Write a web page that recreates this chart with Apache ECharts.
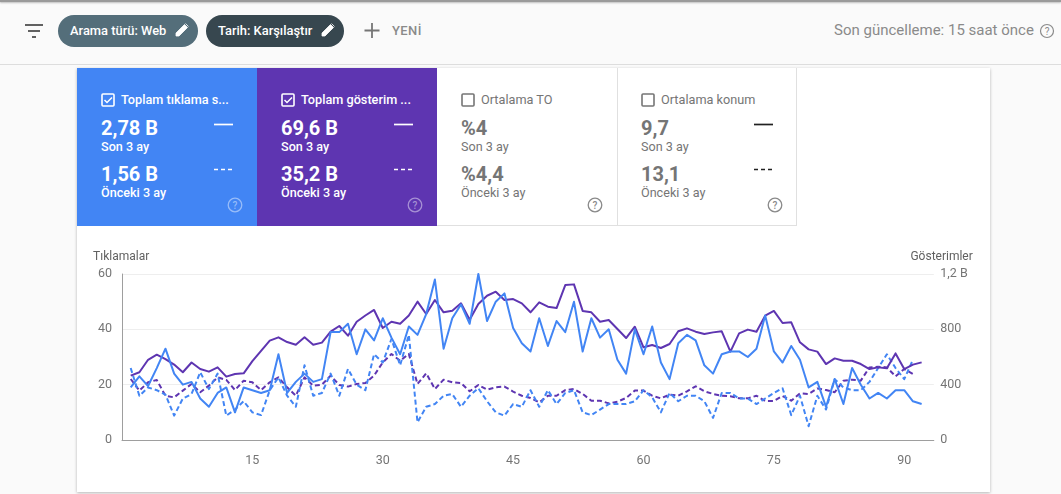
<!DOCTYPE html>
<html lang="tr"><head><meta charset="utf-8">
<script src="https://cdn.jsdelivr.net/npm/echarts@6/dist/echarts.min.js"></script>
<style>
html,body{margin:0;padding:0;width:1061px;height:494px;overflow:hidden;background:#fafafa;font-family:Roboto,sans-serif}
.a{position:absolute;white-space:nowrap;line-height:1}
#top{position:absolute;left:0;top:0;width:1061px;height:64px;background:#fafafa;border-bottom:1px solid #ddd;box-sizing:content-box}
#shade{position:absolute;left:0;top:0;width:1061px;height:2px;background:#9a9a9a;box-shadow:0 1px 2px #bbb}
#card{position:absolute;left:77px;top:68px;width:913px;height:424px;background:#fff;box-shadow:0 1px 3px rgba(0,0,0,.28)}
.chip{position:absolute;top:15px;height:32px;border-radius:16px;color:#fff;font-size:12.9px;font-weight:500;line-height:32px;box-sizing:border-box;padding-left:12px}
.tile{position:absolute;top:68px;width:180px;height:158px;box-sizing:border-box}
.t1{font-size:12.7px}.big{font-size:20px;font-weight:700}.sm{font-size:12.6px}
#chart{position:absolute;left:0;top:0;width:1061px;height:494px}
</style></head><body>
<div id="top"></div><div id="shade"></div>
<svg class="a" style="left:24px;top:23px" width="20" height="16"><path d="M1 2h18M4 8h12M8 14h4" stroke="#616161" stroke-width="1.8"/></svg>
<div class="chip" style="left:58px;width:140px;background:#546e7a">Arama türü: Web</div>
<div class="chip" style="left:206px;width:138px;background:#37474f">Tarih: Karşılaştır</div>
<svg class="a" style="left:174px;top:22px" width="16" height="16"><path d="M2 14v-3L10.5 2.500l3 3L5 14zM11.500 1.500l3 3" fill="#fff" stroke="#fff" stroke-width=".8"/></svg>
<svg class="a" style="left:320px;top:22px" width="16" height="16"><path d="M2 14v-3L10.5 2.500l3 3L5 14zM11.500 1.500l3 3" fill="#fff" stroke="#fff" stroke-width=".8"/></svg>
<svg class="a" style="left:364px;top:23px" width="16" height="16"><path d="M8 0v15M0.500 7.500h15" stroke="#757575" stroke-width="1.8"/></svg>
<div class="a" style="left:392px;top:24px;font-size:13px;font-weight:500;color:#8a8a8a;letter-spacing:.4px">YENİ</div>
<div class="a" style="left:834px;top:23px;font-size:15px;color:#8a8a8a">Son güncelleme: 15 saat önce</div>
<svg class="a" style="left:1039px;top:23px" width="16" height="16"><circle cx="8" cy="8" r="6.500" fill="none" stroke="#8a8a8a" stroke-width="1.2"/><text x="8" y="11.500" font-size="10" text-anchor="middle" fill="#8a8a8a" font-family="Roboto">?</text></svg>
<div id="card"></div>
<div id="tiles"></div>
<div id="chart"></div>
<script>
// Son 3 ay / Önceki 3 ay values
const clicksCurrent=[19,23,19.500,26,33,24,20,21,15,12,17,19,10,19,18,17,18,31,17,21,24,21,22,39,39,42,31,40,36,44,37,31,41,38,45.500,58,33,44,49,42,60,43,50,53,40.500,35,32,44,34,43,39,50,32,44,37,40,29,24,40,31,41,28,22,35,38,36,27,24,31,32,32,30,33,45,32,28,34,29,19,21,12,22,13,26,20,15,17,15,18,18,14,13];
const clicksPrevious=[26,16,19,18,16.400,8.800,15,16.600,24.500,18.400,24,8.800,11,14,10,9,18,22.600,16,12,27,16,17,24,16,25.700,20,18,31,28,36.500,27,38,6.400,12,13,16,16.600,12,16,18.700,14,10,8.800,13,12,18,12,18,13,17,18,10,9,11,13,13,13,14,18,15.400,10,17,14,16,16,14,8,17,17,15,15,13,15,17,18.700,9,16,5,16,11,22,19,18,18,21,26,31,26,22,29];
const impressionsCurrent=[465,490,580,617,585,545,490,560,513,494,525,458,477,482,570,645,718,742,708,689,742,689,704,783,824,754,855,900,940,810,855,840,900,1000,911,1012,923,935,988,870,983,1043,1072,1012,1019,988,923,995,964,954,1120,1125,933,923,855,867,802,737,819,670,687,665,694,786,807,783,766,778,786,639,771,798,783,899,933,846,851,706,655,639,549,590,573,573,549,513,525,518,626,513,545,561];
const impressionsPrevious=[441,357,417,434,320,308,357,405,345,393,453,434,361,429,417,361,417,453,381,320,453,393,400,465,398,386,405,412,465,561,622,573,622,405,482,369,436,417,412,352,398,364,381,386,350,320,304,272,320,320,361,369,333,284,284,265,277,304,357,357,320,301,328,320,352,388,352,333,320,316,301,301,320,282,282,318,284,337,333,373,361,345,429,436,429,525,530,525,460,513,477];
const xTicks=[15,30,45,60,75,90];
const leftTicks=[0,20,40,60];
const rightLabels={0:'0',400:'400',800:'800',1200:'1,2 B'};
const tiles=[
 {title:'Toplam tıklama s...',now:'2,78 B',before:'1,56 B',bg:'#4285f4',fg:'#fff',on:true},
 {title:'Toplam gösterim ...',now:'69,6 B',before:'35,2 B',bg:'#5e35b1',fg:'#fff',on:true},
 {title:'Ortalama TO',now:'%4',before:'%4,4',bg:'#fff',fg:'#757575',on:false},
 {title:'Ortalama konum',now:'9,7',before:'13,1',bg:'#fff',fg:'#757575',on:false,mark:'#212121'}
];
const h=tiles.map((t,i)=>{
 const x=77+i*180, qs=t.on?'rgba(255,255,255,.45)':'#8a8a8a';
 const border=t.on?'':'border-bottom:1px solid #e0e0e0;'+(i===3?'border-left:1px solid #e0e0e0;border-right:1px solid #e0e0e0;':'');
 const mark=t.on?'#fff':t.mark;
 const box=t.on?`<rect x="1" y="1" width="12" height="12" rx="1" fill="none" stroke="#fff" stroke-width="1.6"/><path d="M3.500 7l2.500 2.500 5-5" fill="none" stroke="#fff" stroke-width="1.5"/>`:`<rect x="1" y="1" width="12" height="12" rx="1" fill="none" stroke="#757575" stroke-width="1.6"/>`;
 const left=i===3?23:24;
 let marks='';
 if(mark){const mx=i===3?136:137, w=19;
  marks=`<svg class="a" style="left:${mx}px;top:55px" width="20" height="3"><path d="M0 1.500h${w}" stroke="${mark}" stroke-width="1.700"/></svg><svg class="a" style="left:${mx}px;top:100px" width="20" height="3"><path d="M0 1.500h${w}" stroke="${mark}" stroke-width="1.700" stroke-dasharray="4 3"/></svg>`;}
 return `<div class="tile" style="left:${x}px;background:${t.bg};color:${t.fg};${border}">
 <svg class="a" style="left:${left}px;top:25px" width="14" height="14">${box}</svg>
 <div class="a t1" style="left:${left+20}px;top:25.500px;font-weight:${t.on?500:400}">${t.title}</div>
 <div class="a big" style="left:${left}px;top:50px">${t.now}</div>
 <div class="a sm" style="left:${left}px;top:73px;font-weight:${t.on?500:400}">Son 3 ay</div>
 <div class="a big" style="left:${left}px;top:96px">${t.before}</div>
 <div class="a sm" style="left:${left}px;top:119px;font-weight:${t.on?500:400}">Önceki 3 ay</div>${marks}
 <svg class="a" style="left:${i===3?149:150}px;top:129px" width="16" height="16"><circle cx="8" cy="8" r="6.800" fill="none" stroke="${qs}" stroke-width="1.300"/><text x="8" y="11.500" font-size="10" font-weight="500" text-anchor="middle" fill="${qs}" font-family="Roboto">?</text></svg>
 </div>`;}).join('');
document.getElementById('tiles').innerHTML=h;

const pairs=a=>a.map((v,i)=>[i+1,v]);
const line=(name,data,color,axis,dashed,z)=>({name,type:'line',data:pairs(data),yAxisIndex:axis,symbol:'none',smooth:false,z,silent:true,
  lineStyle:{color,width:2,type:dashed?[5,3]:'solid',cap:'butt',join:'round'}});
const chart=echarts.init(document.getElementById('chart'),null,{renderer:'canvas'});
chart.setOption({animation:false,backgroundColor:'transparent',
 textStyle:{fontFamily:'Roboto, sans-serif'},
 grid:{left:122,width:811.800,top:274,height:166},
 xAxis:{type:'value',min:0,max:93.400,interval:15,showMinLabel:false,showMaxLabel:false,
   axisLine:{show:true,lineStyle:{color:'#9e9e9e',width:1}},axisTick:{show:false},splitLine:{show:false},
   axisLabel:{color:'#757575',fontSize:12.500,margin:14,formatter:v=>xTicks.includes(v)?String(v):''}},
 yAxis:[
  {type:'value',min:0,max:60,interval:20,position:'left',name:'Tıklamalar',nameLocation:'end',nameGap:11,
   nameTextStyle:{color:'#616161',fontSize:12,align:'left',padding:[0,0,0,-29]},
   axisLine:{show:true,onZero:false,lineStyle:{color:'#9e9e9e',width:1}},axisTick:{show:false},
   splitLine:{lineStyle:{color:'#eeeeee',width:1}},
   axisLabel:{color:'#757575',fontSize:12.500,margin:10,padding:[1,0,0,0],formatter:v=>leftTicks.includes(v)?String(v):''}},
  {type:'value',min:0,max:1200,interval:400,position:'right',name:'Gösterimler',nameLocation:'end',nameGap:11,
   nameTextStyle:{color:'#616161',fontSize:12,align:'right',padding:[0,-39,0,0]},
   axisLine:{show:false,onZero:false},axisTick:{show:false},splitLine:{show:false},
   axisLabel:{color:'#757575',fontSize:12.500,margin:6.500,padding:[1,0,0,0],formatter:v=>rightLabels[v]}}
 ],
 series:[
  line('Gösterimler önceki',impressionsPrevious,'#5e35b1',1,true,2),
  line('Tıklamalar önceki',clicksPrevious,'#4285f4',0,true,3),
  line('Gösterimler son',impressionsCurrent,'#5e35b1',1,false,4),
  line('Tıklamalar son',clicksCurrent,'#4285f4',0,false,5)
 ]});
</script>
</body></html>
